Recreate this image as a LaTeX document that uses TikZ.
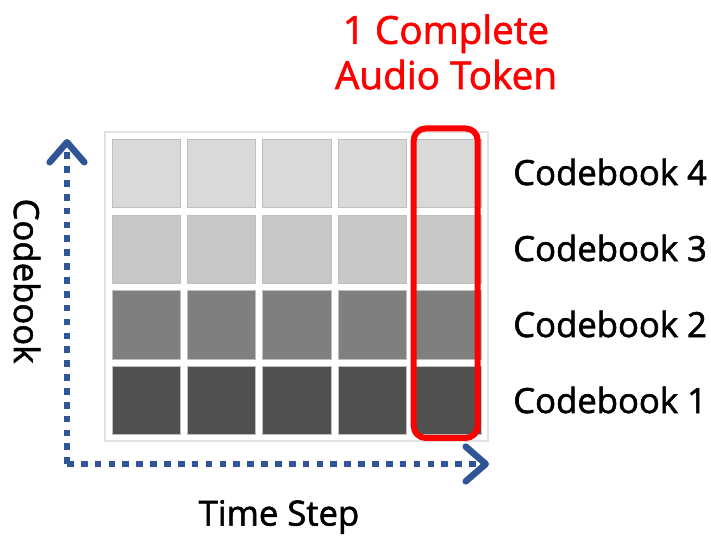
\documentclass[tikz,border=0pt]{standalone}
\usepackage{fontspec}
\setmainfont{Open Sans}
\newfontfamily\heavyfont{Open Sans}[FakeBold=1.6]
\usetikzlibrary{arrows.meta}
\definecolor{axisblue}{HTML}{2F5597}
\definecolor{cbfour}{HTML}{D9D9D9}
\definecolor{cbthree}{HTML}{C8C8C8}
\definecolor{cbtwo}{HTML}{7F7F7F}
\definecolor{cbone}{HTML}{505050}
\definecolor{framegray}{HTML}{E2E2E2}
\tikzset{
  cell/.style={draw=black!25, line width=0.5pt},
  txt/.style={font=\heavyfont\fontsize{26}{31}\selectfont, inner sep=0pt},
  lbl/.style={txt, anchor=west},
  axis/.style={draw=axisblue, line width=4.9pt, dash pattern=on 5pt off 5.4pt,
    -{Straight Barb[length=15pt, width=26pt, line join=round, line cap=round]}},
}
\begin{document}
\begin{tikzpicture}[x=0.75pt, y=-0.75pt]
\useasboundingbox (0,0) rectangle (711,536);
\fill[white] (0,0) rectangle (711,536);
% frame
\draw[framegray, line width=0.8pt, fill=white] (105,132) rectangle (488,441);
% cells
\foreach \r/\c in {0/cbfour,1/cbthree,2/cbtwo,3/cbone}{
  \foreach \k in {0,...,4}{
    \pgfmathsetmacro{\xa}{112+\k*75.3}
    \pgfmathsetmacro{\ya}{139.3+\r*75.6}
    \draw[cell, fill=\c] (\xa,\ya) rectangle ++(68.5,68.5);
  }
}
% red token box
\node[draw=red, line width=4.5pt, rounded corners=9pt, minimum width=64*0.75pt,
  minimum height=309.5*0.75pt, inner sep=0pt] (tok) at (445.7,283.2) {};
% axes
\coordinate (origin) at (67,464);
\coordinate (ytip) at (67,139);
\coordinate (xtip) at (489,464);
\draw[axis] (origin) -- (ytip);
\draw[axis] (origin) -- (xtip);
% labels
\node[lbl] (cb4) at (513,172) {Codebook 4};
\node[lbl] (cb3) at (513,248) {Codebook 3};
\node[lbl] (cb2) at (513,324) {Codebook 2};
\node[lbl] (cb1) at (513,400) {Codebook 1};
\node[txt, rotate=-90] (ylab) at (27,281) {Codebook};
\node[txt] (xlab) at (279,517) {Time Step};
\node[font=\heavyfont\fontsize{29}{34}\selectfont, text=red, align=center, inner sep=0pt] (title) at (446,52) {1 Complete\\Audio Token};
\end{tikzpicture}
\end{document}
